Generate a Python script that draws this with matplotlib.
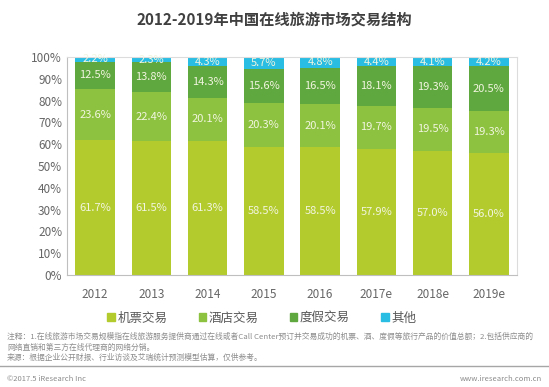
import numpy as np
import matplotlib.pyplot as plt
from matplotlib.patches import Patch

plt.rcParams['font.family'] = ['Noto Sans CJK SC', 'DejaVu Sans']

years = ["2012", "2013", "2014", "2015", "2016", "2017e", "2018e", "2019e"]
air = [61.7, 61.5, 61.3, 58.5, 58.5, 57.9, 57.0, 56.0]
hotel = [23.6, 22.4, 20.1, 20.3, 20.1, 19.7, 19.5, 19.3]
holiday = [12.5, 13.8, 14.3, 15.6, 16.5, 18.1, 19.3, 20.5]
other = [2.2, 2.3, 4.3, 5.7, 4.8, 4.4, 4.1, 4.2]
names = ["机票交易", "酒店交易", "度假交易", "其他"]
colors = ["#b4cb2e", "#8cc23f", "#5fa73f", "#2abde3"]

fig = plt.figure(figsize=(5.49, 3.87), dpi=100)
ax = fig.add_axes([67/549, 1-275/387, 450/549, 218/387])

x = np.arange(len(years))
bottom = np.zeros(len(years))
for vals, c in zip([air, hotel, holiday, other], colors):
    ax.bar(x, vals, 0.7, bottom=bottom, color=c, zorder=2)
    for xi, b, v in zip(x, bottom, vals):
        ax.text(xi, b + v/2, "%.1f%%" % v, ha="center", va="center",
                fontsize=8, color="#f2f5e0", zorder=3)
    bottom += np.array(vals)

ax.set_xlim(-0.5, len(years) - 0.5)
ax.set_ylim(0, 100)
ax.set_yticks(range(0, 101, 10))
ax.set_yticklabels(["%d%%" % v for v in range(0, 101, 10)])
ax.set_xticks(x)
ax.set_xticklabels(years)
ax.tick_params(length=0, labelsize=8.5, colors="#666666")
ax.tick_params(axis="x", pad=9)
for s in ax.spines.values():
    s.set_color("#dcdcdc")
ax.spines["left"].set_color("#bfbfbf")
ax.spines["bottom"].set_color("#bfbfbf")

fig.text(0.5, 1-20/387, "2012-2019年中国在线旅游市场交易结构", ha="center", va="center",
         fontsize=11, fontweight="bold", color="#404040")

handles = [Patch(color=c) for c in colors]
fig.legend(handles, names, loc="center", bbox_to_anchor=(0.477, 1-318/387), ncol=4,
           frameon=False, fontsize=9, handlelength=0.6, handleheight=0.6,
           handletextpad=0.2, columnspacing=2.5, labelcolor="#595959")

note1 = "注释：1.在线旅游市场交易规模指在线旅游服务提供商通过在线或者Call Center预订并交易成功的机票、酒、度假等旅行产品的价值总额；2.包括供应商的"
note2 = "网络直销和第三方在线代理商的网络分销。"
note3 = "来源：根据企业公开财报、行业访谈及艾瑞统计预测模型估算，仅供参考。"
for yy, t in zip([337, 348, 358], [note1, note2, note3]):
    fig.text(7/549, 1-yy/387, t, ha="left", va="center", fontsize=5.6, color="#8c8c8c")

fig.add_artist(plt.Line2D([0, 1], [1-366/387, 1-366/387], color="#a6a6a6", lw=1))
fig.text(7/549, 1-379/387, "©2017.5 iResearch Inc", ha="left", va="center",
         fontsize=5.5, color="#8c8c8c")
fig.text(542/549, 1-379/387, "www.iresearch.com.cn", ha="right", va="center",
         fontsize=5.5, color="#8c8c8c")

fig.savefig("out.png", dpi=100)
